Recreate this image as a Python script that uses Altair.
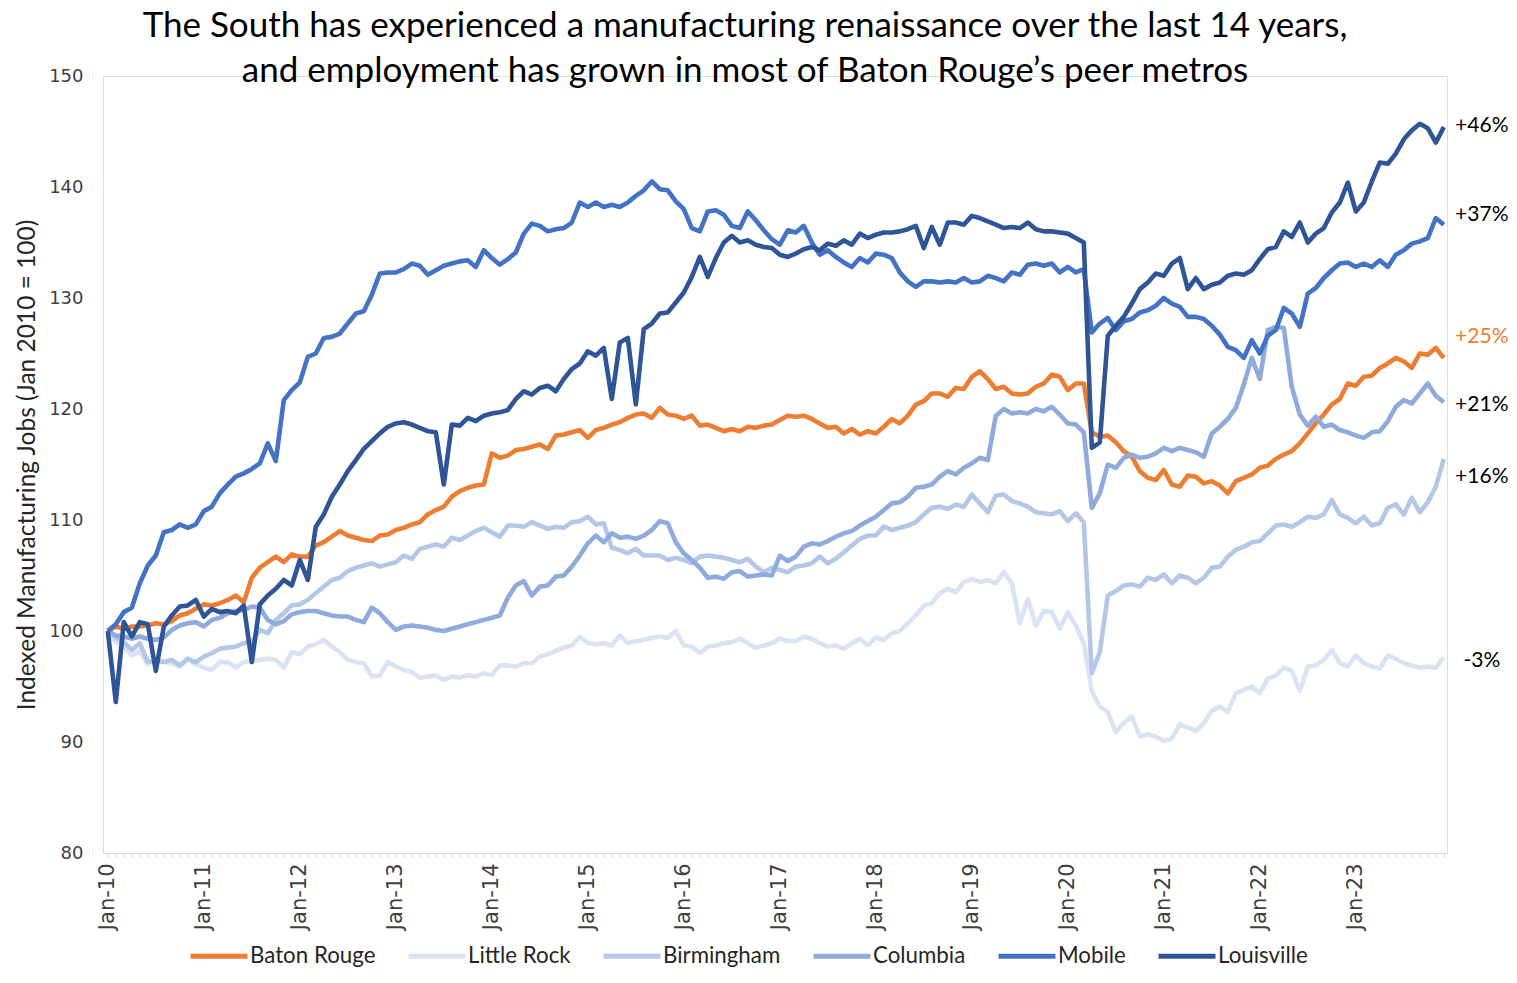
import json
import altair as alt
import pandas as pd

series_names = ["Baton Rouge", "Little Rock", "Birmingham", "Columbia", "Mobile", "Louisville"]
series_colors = ["#ED7D31", "#DAE3F3", "#B4C7E7", "#8FAADC", "#4472C4", "#2F5597"]

tick_labels = ["Jan-10", "Jan-11", "Jan-12", "Jan-13", "Jan-14", "Jan-15", "Jan-16",
               "Jan-17", "Jan-18", "Jan-19", "Jan-20", "Jan-21", "Jan-22", "Jan-23"]

baton_rouge = [
    100.0, 100.4, 100.2, 100.4, 100.4, 100.5, 100.7, 100.6, 100.9, 101.4, 101.6, 102.0,
    102.4, 102.3, 102.5, 102.8, 103.2, 102.6, 104.8, 105.7, 106.2, 106.7, 106.2, 106.9,
    106.7, 106.7, 107.7, 108.0, 108.5, 109.0, 108.6, 108.4, 108.2, 108.1, 108.6, 108.7,
    109.1, 109.3, 109.6, 109.8, 110.5, 110.9, 111.2, 112.1, 112.6, 112.9, 113.1, 113.2,
    116.0, 115.6, 115.8, 116.3, 116.4, 116.6, 116.8, 116.4, 117.6, 117.7, 117.9, 118.1,
    117.4, 118.1, 118.3, 118.6, 118.8, 119.2, 119.5, 119.6, 119.2, 120.1, 119.5, 119.4,
    119.1, 119.4, 118.5, 118.6, 118.3, 118.0, 118.2, 118.0, 118.4, 118.3, 118.5, 118.6,
    119.0, 119.4, 119.3, 119.4, 119.1, 118.7, 118.3, 118.4, 117.8, 118.2, 117.7, 118.0,
    117.8, 118.4, 119.1, 118.7, 119.4, 120.4, 120.7, 121.4, 121.4, 121.1, 121.9, 121.8,
    122.9, 123.4, 122.7, 121.8, 122.0, 121.4, 121.3, 121.4, 122.0, 122.3, 123.1, 122.9,
    121.7, 122.3, 122.3, 117.9, 117.5, 117.6, 117.0, 116.2, 115.7, 114.4, 113.8, 113.6,
    114.5, 113.2, 113.0, 114.0, 113.9, 113.3, 113.5, 113.1, 112.4, 113.5, 113.8, 114.1,
    114.7, 114.9, 115.5, 115.9, 116.2, 116.9, 117.8, 118.7, 119.5, 120.4, 120.9, 122.3,
    122.1, 122.9, 123.0, 123.7, 124.1, 124.6, 124.3, 123.7, 125.0, 124.9, 125.5, 124.6,
]

little_rock = [
    100.0, 99.0, 98.6, 97.8, 98.2, 97.0, 97.5, 97.2, 97.1, 96.8, 97.5, 97.0,
    96.7, 96.5, 97.2, 97.2, 96.7, 97.2, 97.3, 97.4, 97.5, 97.4, 96.7, 98.1,
    97.9, 98.6, 98.8, 99.2, 98.6, 98.1, 97.4, 97.2, 97.1, 95.9, 96.0, 97.2,
    96.8, 96.5, 96.3, 95.8, 95.9, 96.0, 95.6, 95.9, 95.8, 96.0, 95.9, 96.2,
    96.0, 96.9, 96.9, 96.8, 97.1, 97.1, 97.7, 97.9, 98.2, 98.5, 98.7, 99.5,
    98.9, 98.8, 98.9, 98.7, 99.6, 98.9, 99.1, 99.2, 99.4, 99.5, 99.4, 100.0,
    98.7, 98.6, 98.0, 98.6, 98.7, 98.9, 99.0, 99.3, 98.9, 98.5, 98.7, 98.9,
    99.3, 99.1, 99.1, 99.5, 99.3, 98.9, 98.6, 98.7, 98.4, 98.9, 99.3, 98.7,
    99.4, 99.2, 99.8, 100.0, 100.7, 101.4, 102.3, 102.5, 103.4, 103.8, 103.5, 104.4,
    104.7, 104.4, 104.6, 104.3, 105.3, 104.3, 100.7, 102.9, 100.5, 101.8, 101.7, 100.2,
    101.7, 100.5, 98.9, 94.6, 93.2, 92.7, 90.9, 91.7, 92.3, 90.5, 90.7, 90.5,
    90.1, 90.3, 91.6, 91.3, 91.0, 91.7, 92.8, 93.2, 92.7, 94.4, 94.7, 95.0,
    94.4, 95.7, 96.0, 96.7, 96.4, 94.6, 96.8, 96.9, 97.4, 98.3, 97.1, 96.8,
    97.8, 97.1, 96.8, 96.6, 97.8, 97.5, 97.1, 96.9, 96.7, 96.8, 96.7, 97.6,
]

birmingham = [
    100.0, 99.4, 99.0, 98.3, 98.9, 97.2, 97.3, 97.2, 97.4, 96.9, 97.5, 97.2,
    97.7, 98.0, 98.4, 98.5, 98.6, 98.9, 99.0, 100.1, 99.8, 101.0, 101.6, 102.3,
    102.4, 102.8, 103.4, 104.0, 104.6, 104.8, 105.4, 105.7, 105.9, 106.1, 105.8, 106.0,
    106.2, 106.8, 106.5, 107.4, 107.6, 107.8, 107.6, 108.4, 108.2, 108.6, 109.0, 109.3,
    108.9, 108.5, 109.5, 109.5, 109.4, 109.8, 109.5, 109.2, 109.4, 109.3, 109.8, 109.9,
    110.3, 109.6, 109.7, 107.5, 107.3, 107.0, 107.4, 106.8, 106.8, 106.8, 106.4, 106.6,
    106.4, 106.1, 106.7, 106.8, 106.7, 106.6, 106.4, 106.2, 106.5, 105.8, 105.3, 105.7,
    105.5, 105.3, 105.8, 105.9, 106.1, 106.7, 106.1, 106.5, 107.1, 107.7, 108.3, 108.6,
    108.6, 109.4, 109.1, 109.3, 109.5, 109.8, 110.5, 111.1, 111.2, 111.0, 111.4, 111.2,
    112.3, 111.5, 110.7, 112.2, 112.3, 111.7, 111.5, 111.2, 110.7, 110.6, 110.5, 110.8,
    109.9, 110.6, 109.8, 96.2, 98.1, 103.2, 103.6, 104.1, 104.2, 104.0, 104.8, 104.6,
    105.1, 104.3, 105.0, 104.8, 104.3, 104.8, 105.7, 105.8, 106.7, 107.3, 107.6, 108.0,
    108.1, 108.8, 109.5, 109.6, 109.4, 109.8, 110.3, 110.2, 110.5, 111.8, 110.5, 110.2,
    109.7, 110.3, 109.5, 109.7, 111.1, 111.4, 110.5, 112.0, 110.7, 111.6, 113.0, 115.5,
]

columbia = [
    100.0, 99.6, 99.5, 99.3, 99.5, 99.3, 99.2, 99.4, 100.1, 100.5, 100.7, 100.8,
    100.4, 101.0, 101.2, 101.6, 101.8, 101.9, 102.2, 102.1, 101.0, 100.6, 100.9, 101.5,
    101.7, 101.8, 101.8, 101.6, 101.4, 101.3, 101.3, 101.0, 100.8, 102.1, 101.6, 100.8,
    100.1, 100.4, 100.5, 100.4, 100.3, 100.1, 100.0, 100.2, 100.4, 100.6, 100.8, 101.0,
    101.2, 101.4, 103.0, 104.1, 104.5, 103.2, 104.0, 104.1, 104.9, 105.0, 105.8, 106.8,
    107.9, 108.6, 108.0, 108.8, 108.4, 108.5, 108.3, 108.6, 109.1, 109.9, 109.7, 108.0,
    107.0, 106.4, 105.7, 104.8, 104.9, 104.7, 105.3, 105.4, 104.9, 105.0, 105.1, 105.0,
    106.8, 106.3, 106.7, 107.6, 107.9, 107.8, 108.1, 108.5, 108.8, 109.0, 109.5, 109.9,
    110.3, 110.9, 111.5, 111.6, 112.1, 112.9, 113.0, 113.2, 113.9, 114.4, 114.1, 114.7,
    115.1, 115.6, 115.4, 119.4, 120.0, 119.6, 119.7, 119.6, 120.0, 119.8, 120.2, 119.5,
    118.7, 118.6, 117.9, 111.1, 112.4, 115.0, 114.7, 115.6, 115.9, 115.6, 115.7, 116.0,
    116.5, 116.2, 116.5, 116.3, 116.1, 115.7, 117.8, 118.4, 119.1, 120.1, 122.2, 124.6,
    122.7, 127.1, 127.4, 127.3, 122.0, 119.5, 118.5, 119.3, 118.4, 118.6, 118.1, 117.9,
    117.6, 117.4, 117.9, 118.0, 118.9, 120.2, 120.8, 120.5, 121.4, 122.3, 121.2, 120.6,
]

mobile = [
    100.0, 100.6, 101.7, 102.1, 104.3, 105.9, 106.8, 108.9, 109.1, 109.6, 109.3, 109.6,
    110.8, 111.2, 112.4, 113.2, 113.9, 114.2, 114.6, 115.1, 116.9, 115.3, 120.8, 121.7,
    122.4, 124.7, 125.0, 126.4, 126.5, 126.8, 127.7, 128.6, 128.8, 130.3, 132.2, 132.3,
    132.3, 132.6, 133.1, 132.9, 132.1, 132.5, 132.9, 133.1, 133.3, 133.4, 132.8, 134.3,
    133.6, 133.0, 133.5, 134.1, 135.8, 136.7, 136.5, 136.0, 136.2, 136.3, 136.8, 138.6,
    138.2, 138.6, 138.2, 138.4, 138.2, 138.6, 139.2, 139.7, 140.5, 139.8, 139.7, 138.7,
    138.0, 136.3, 136.0, 137.8, 137.9, 137.5, 136.5, 136.3, 137.8, 137.0, 136.1, 135.3,
    134.8, 136.1, 135.9, 136.5, 135.0, 133.9, 134.3, 133.7, 133.2, 132.8, 133.6, 133.2,
    134.0, 133.9, 133.6, 132.3, 131.5, 131.0, 131.5, 131.5, 131.4, 131.5, 131.4, 131.8,
    131.4, 131.5, 132.0, 131.8, 131.5, 132.3, 132.1, 133.0, 133.1, 132.9, 133.1, 132.3,
    132.8, 132.3, 132.6, 126.9, 127.7, 128.2, 127.1, 127.9, 128.1, 128.7, 128.9, 129.3,
    130.0, 129.5, 129.2, 128.3, 128.3, 128.1, 127.5, 126.7, 125.6, 125.3, 124.6, 126.2,
    125.0, 126.6, 127.1, 129.1, 128.6, 127.4, 130.4, 130.9, 131.8, 132.5, 133.1, 133.2,
    132.8, 133.1, 132.8, 133.4, 132.8, 133.9, 134.3, 134.9, 135.1, 135.4, 137.2, 136.6,
]

louisville = [
    100.0, 93.6, 100.8, 99.5, 100.8, 100.6, 96.4, 100.4, 101.4, 102.2, 102.3, 102.8,
    101.3, 102.0, 101.7, 101.8, 101.6, 102.3, 97.2, 102.4, 103.2, 103.8, 104.6, 104.1,
    106.4, 104.6, 109.4, 110.5, 112.1, 113.2, 114.4, 115.4, 116.4, 117.1, 117.8, 118.4,
    118.7, 118.8, 118.6, 118.3, 118.0, 117.9, 113.2, 118.6, 118.5, 119.2, 118.9, 119.4,
    119.6, 119.7, 119.9, 120.9, 121.6, 121.3, 121.9, 122.1, 121.6, 122.7, 123.6, 124.1,
    125.2, 124.8, 125.5, 120.9, 126.0, 126.4, 120.4, 127.2, 127.7, 128.6, 128.7, 129.6,
    130.5, 131.9, 133.7, 131.9, 133.6, 135.0, 135.6, 135.0, 135.2, 134.8, 134.6, 134.5,
    133.9, 133.7, 134.0, 134.4, 134.6, 134.3, 134.9, 134.7, 135.2, 134.8, 135.8, 135.4,
    135.7, 135.9, 135.9, 136.0, 136.2, 136.5, 134.5, 136.4, 134.8, 136.8, 136.8, 136.6,
    137.4, 137.2, 136.9, 136.6, 136.3, 136.4, 136.3, 136.8, 136.2, 136.0, 136.0, 135.9,
    135.8, 135.4, 135.0, 116.5, 117.0, 126.6, 127.5, 128.3, 129.5, 130.8, 131.4, 132.2,
    132.0, 133.1, 133.6, 130.8, 131.8, 130.8, 131.2, 131.4, 132.0, 132.2, 132.1, 132.5,
    133.5, 134.4, 134.6, 136.0, 135.5, 136.8, 135.0, 135.8, 136.3, 137.7, 138.6, 140.4,
    137.8, 138.6, 140.5, 142.2, 142.1, 143.0, 144.3, 145.1, 145.7, 145.3, 144.0, 145.4,
]

end_labels = ["+46%", "+37%", "+25%", "+21%", "+16%", "-3%"]
end_label_y = [145.5, 137.5, 126.5, 120.4, 113.9, 97.3]
end_label_colors = ["#000000", "#000000", "#ED7D31", "#000000", "#000000", "#000000"]

values_by_series = [baton_rouge, little_rock, birmingham, columbia, mobile, louisville]

rows = []
for name, vals in zip(series_names, values_by_series):
    for i, v in enumerate(vals):
        rows.append({"series": name, "idx": i, "value": v})
df = pd.DataFrame(rows)

n_months = len(baton_rouge)
labels_df = pd.DataFrame({
    "label": end_labels,
    "y": end_label_y,
    "color": end_label_colors,
    "idx": [n_months - 1] * len(end_labels),
})

label_expr = ("datum.value % 12 === 0 ? " + json.dumps(tick_labels) +
              "[datum.value / 12] : ''")

x_scale = alt.Scale(domain=[-0.6, n_months - 0.6], nice=False, zero=False)
y_scale = alt.Scale(domain=[80, 150], nice=False, zero=False)

x_axis = alt.Axis(
    values=list(range(n_months)),
    tickCount=400,
    labelExpr=label_expr,
    labelAngle=270,
    labelAlign="right",
    labelBaseline="middle",
    labelOverlap=False,
    labelFlush=False,
    labelFont="DejaVu Sans",
    labelFontSize=21,
    labelColor="#404040",
    labelPadding=5,
    tickSize=5,
    tickColor="#D9D9D9",
    domainColor="#D9D9D9",
    domainWidth=1,
    grid=False,
    title=None,
)

y_axis = alt.Axis(
    values=[80, 90, 100, 110, 120, 130, 140, 150],
    domain=False,
    ticks=False,
    grid=False,
    labelFont="DejaVu Sans",
    labelFontSize=18,
    labelColor="#404040",
    labelPadding=20,
    title="Indexed Manufacturing Jobs (Jan 2010 = 100)",
    titleFont="Lato",
    titleFontSize=24.5,
    titleFontWeight="normal",
    titleColor="#262626",
    titlePadding=9,
)

color = alt.Color(
    "series:N",
    scale=alt.Scale(domain=series_names, range=series_colors),
    sort=series_names,
    legend=alt.Legend(
        orient="none",
        legendX=85,
        legendY=849,
        direction="horizontal",
        title=None,
        symbolType="stroke",
        symbolStrokeWidth=5,
        symbolSize=3249,
        labelFont="Lato",
        labelFontSize=22.3,
        labelColor="#262626",
        labelOffset=0,
        columnPadding=22,
        padding=0,
    ),
)

base = alt.Chart(df).mark_line(strokeWidth=4.6, strokeJoin="round").encode(
    x=alt.X("idx:Q", scale=x_scale, axis=x_axis),
    y=alt.Y("value:Q", scale=y_scale, axis=y_axis),
    color=color,
)

layers = [base.transform_filter(alt.datum.series == s) for s in series_names]

text = alt.Chart(labels_df).mark_text(
    align="center", baseline="middle", dx=38, font="Lato", fontSize=21
).encode(
    x=alt.X("idx:Q", scale=x_scale, axis=x_axis),
    y=alt.Y("y:Q", scale=y_scale, axis=y_axis),
    text="label:N",
    color=alt.Color("color:N", scale=None),
)

chart = alt.layer(*layers, text).properties(
    width=1344,
    height=777,
    autosize=alt.AutoSizeParams(type="none"),
    padding={"left": 95, "top": 68, "right": 62, "bottom": 117},
    title=alt.TitleParams(
        text=["The South has experienced a manufacturing renaissance over the last 14 years,",
              "and employment has grown in most of Baton Rouge\u2019s peer metros"],
        font="Lato",
        fontSize=35,
        fontWeight="normal",
        color="#000000",
        anchor="middle",
        dx=-30,
        offset=-22,
        lineHeight=45,
    ),
).configure_view(strokeWidth=0).configure(background="white")

chart.save("out.html", embed_options={"renderer": "svg", "actions": False})
